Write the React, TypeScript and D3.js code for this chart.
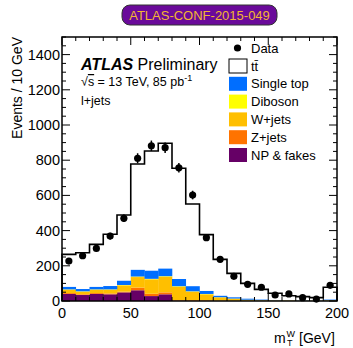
import React from "react";
import * as d3 from "d3";

// bins of 10 GeV, m_T^W from 0 to 200 (last bin includes overflow)
const binLow = [0, 10, 20, 30, 40, 50, 60, 70, 80, 90, 100, 110, 120, 130, 140, 150, 160, 170, 180, 190];

const npFakes = [40, 34, 40, 38, 49, 61, 28, 38, 2, 1, 1, 0.5, 0.5, 0.3, 0.2, 0.2, 0.1, 0.1, 0.1, 0.2];
const zJets = [5, 4, 5, 5, 4, 15, 13, 11, 3, 4, 3, 2, 1, 1, 0.5, 0.5, 0.5, 0.3, 0.3, 0.5];
const wJets = [19, 15, 19, 21, 36, 60, 82, 89, 76, 48, 34, 18, 11.5, 5.7, 3.3, 2.3, 2.4, 1.6, 1.6, 3.3];
const diboson = [2, 2, 2, 2, 2, 3, 3, 3, 3, 2, 2, 1, 1, 0.5, 0.5, 0.3, 0.3, 0.3, 0.2, 0.5];
const singleTop = [14, 13, 14, 19, 24, 38, 46, 43, 41, 29, 17, 8, 7, 5.5, 3.5, 1.7, 0.7, 1.7, 0.8, 3.5];
const ttbar = [185, 206, 242, 294, 374, 601, 680, 712, 629, 467, 320, 207, 136, 87, 58, 39, 26, 21, 16, 70];

const dataCounts = [227, 257, 299, 369, 470, 811, 882, 871, 757, 602, 360, 237, 140, 95, 78, 34, 40, 19, 11, 89];

const yTicks = [0, 200, 400, 600, 800, 1000, 1200, 1400];
const xTicks = [0, 50, 100, 150, 200];

const KEYS = ["np", "z", "w", "vv", "st", "tt"];
const COLORS: Record<string, string> = {
  np: "#660066",
  z: "#ff7300",
  w: "#ffbf00",
  vv: "#ffff00",
  st: "#006eff",
  tt: "#ffffff",
};
const LEGEND = [
  { key: "tt", label: "tt\u0304" },
  { key: "st", label: "Single top" },
  { key: "vv", label: "Diboson" },
  { key: "w", label: "W+jets" },
  { key: "z", label: "Z+jets" },
  { key: "np", label: "NP & fakes" },
];

const W = 353;
const H = 348;
const M = { left: 62, right: 16, top: 37, bottom: 47 };
const FONT = "'Liberation Sans', Arial, Helvetica, sans-serif";

export default function App() {
  const x = d3.scaleLinear().domain([0, 200]).range([M.left, W - M.right]);
  const y = d3.scaleLinear().domain([0, 1500]).range([H - M.bottom, M.top]);

  const rows = binLow.map((lo, i) => ({
    lo,
    np: npFakes[i],
    z: zJets[i],
    w: wJets[i],
    vv: diboson[i],
    st: singleTop[i],
    tt: ttbar[i],
  }));
  const series = d3.stack<any>().keys(KEYS)(rows);
  const totals = rows.map((r) => KEYS.reduce((s, k) => s + r[k], 0));

  const stepPts: [number, number][] = [[0, 0]];
  binLow.forEach((lo, i) => {
    stepPts.push([lo, totals[i]]);
    stepPts.push([lo + 10, totals[i]]);
  });
  stepPts.push([200, 0]);
  const step = d3
    .line<[number, number]>()
    .x((d) => x(d[0]))
    .y((d) => y(d[1]));

  const x0 = M.left;
  const x1 = W - M.right;
  const y0 = H - M.bottom;
  const y1 = M.top;

  const xMinor = d3.range(0, 201, 10);
  const yMinor = d3.range(0, 1501, 50);

  return (
    <svg width={W} height={H} style={{ position: "absolute", left: 0, top: 0, fontFamily: FONT }}>
      <rect width={W} height={H} fill="#fff" />
      {/* badge */}
      <rect x={122} y={5} width={155} height={20} rx={8} fill="#6a0a9a" stroke="#333" strokeWidth={1} />
      <text x={199.5} y={19.5} textAnchor="middle" fontSize={13} fill="#f2b632">
        ATLAS-CONF-2015-049
      </text>

      {/* background stack */}
      {series
        .filter((s) => s.key !== "tt")
        .map((s) => (
          <g key={s.key} fill={COLORS[s.key]}>
            {s.map((d, i) => (
              <rect
                key={i}
                x={x(binLow[i])}
                width={x(binLow[i] + 10) - x(binLow[i]) + 0.3}
                y={y(d[1])}
                height={Math.max(0, y(d[0]) - y(d[1]))}
              />
            ))}
          </g>
        ))}
      {/* thin separators in the fakes layer */}
      {binLow.slice(1).map((lo, i) => (
        <line
          key={"sep" + i}
          x1={x(lo)}
          x2={x(lo)}
          y1={y(0)}
          y2={y(Math.min(npFakes[i], npFakes[i + 1]))}
          stroke="#222"
          strokeWidth={0.8}
        />
      ))}
      <path d={step(stepPts) || ""} fill="none" stroke="#000" strokeWidth={1.6} />

      {/* data */}
      {dataCounts.map((n, i) => {
        const cx = x(binLow[i] + 5);
        const e = Math.sqrt(n);
        return (
          <g key={"d" + i}>
            <line x1={cx} x2={cx} y1={y(n + e)} y2={y(Math.max(0, n - e))} stroke="#000" strokeWidth={1.5} />
            <circle cx={cx} cy={y(n)} r={3.6} fill="#000" />
          </g>
        );
      })}

      {/* frame */}
      <rect x={x0} y={y1} width={x1 - x0} height={y0 - y1} fill="none" stroke="#000" strokeWidth={1.5} />

      {/* x ticks */}
      {xMinor.map((v) => {
        const major = v % 50 === 0;
        const len = major ? 8 : 4;
        return (
          <g key={"xt" + v} stroke="#000" strokeWidth={1}>
            <line x1={x(v)} x2={x(v)} y1={y0} y2={y0 - len} />
            <line x1={x(v)} x2={x(v)} y1={y1} y2={y1 + len} />
          </g>
        );
      })}
      {xTicks.map((v) => (
        <text key={"xl" + v} x={x(v)} y={y0 + 17} textAnchor="middle" fontSize={14.5} fill="#000">
          {v}
        </text>
      ))}
      {/* y ticks */}
      {yMinor.map((v) => {
        const major = v % 200 === 0;
        const len = major ? 8 : 4;
        return (
          <g key={"yt" + v} stroke="#000" strokeWidth={1}>
            <line x1={x0} x2={x0 + len} y1={y(v)} y2={y(v)} />
            <line x1={x1} x2={x1 - len} y1={y(v)} y2={y(v)} />
          </g>
        );
      })}
      {yTicks.map((v) => (
        <text key={"yl" + v} x={x0 - 2} y={y(v) + 5} textAnchor="end" fontSize={14.5} fill="#000">
          {v}
        </text>
      ))}

      {/* axis titles */}
      <g fill="#000">
        <text x={274} y={343} fontSize={14}>m</text>
        <text x={286.5} y={337} fontSize={9}>W</text>
        <text x={287} y={346} fontSize={9}>T</text>
        <text x={299} y={343} fontSize={14}>[GeV]</text>
      </g>
      <text
        transform={`translate(22,${y1}) rotate(-90)`}
        textAnchor="end"
        fontSize={14}
        fill="#000"
      >
        Events / 10 GeV
      </text>

      {/* labels */}
      <text x={81} y={70} fontSize={16} fill="#000">
        <tspan fontWeight="bold" fontStyle="italic">ATLAS</tspan>
        <tspan> Preliminary</tspan>
      </text>
      <text x={81} y={86} fontSize={12.5} fill="#000">
        √<tspan style={{ textDecoration: "overline" }}>s</tspan> = 13 TeV, 85 pb
        <tspan fontSize={9} dy={-5}>-1</tspan>
      </text>
      <text x={81} y={105} fontSize={12.5} fill="#000">
        l+jets
      </text>

      {/* legend */}
      <g fontSize={13} fill="#000">
        <circle cx={237.5} cy={48} r={3.6} fill="#000" />
        <text x={251} y={52.5}>Data</text>
        {LEGEND.map((l, i) => {
          const cy = 66 + i * 17.8;
          return (
            <g key={l.key}>
              <rect
                x={229}
                y={cy - 7}
                width={18}
                height={14}
                fill={COLORS[l.key]}
                stroke={l.key === "tt" ? "#000" : "none"}
                strokeWidth={1}
              />
              <text x={251} y={cy + 4.5}>
                {l.label}
              </text>
            </g>
          );
        })}
      </g>
    </svg>
  );
}
